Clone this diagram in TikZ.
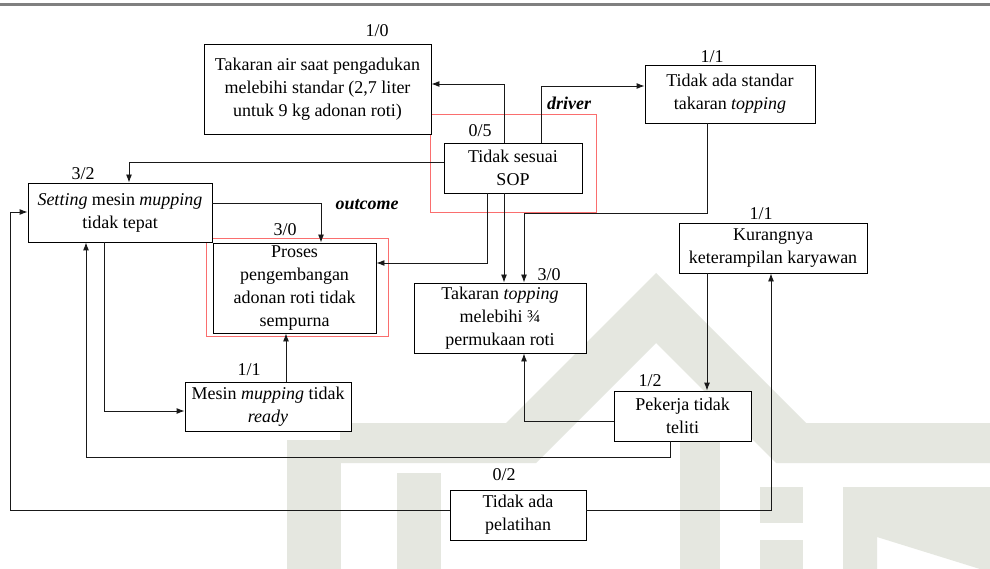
\documentclass[tikz,border=0pt]{standalone}
\usepackage{fontspec}
\setmainfont{Liberation Serif}
\usetikzlibrary{arrows.meta}
\definecolor{wmgray}{RGB}{229,231,224}
\definecolor{frame}{RGB}{250,110,110}
\definecolor{rule}{RGB}{128,128,128}
\tikzset{
  box/.style={draw=black, line width=0.9pt, fill=white, align=center,
              inner sep=0pt, font=\fontsize{18}{23}\selectfont},
  lbl/.style={inner sep=0pt, font=\fontsize{18}{23}\selectfont},
  tag/.style={inner sep=0pt, font=\fontsize{18}{23}\selectfont\bfseries\itshape},
  conn/.style={draw=black!90, line width=0.9pt, -{Latex[length=8pt,width=6pt]}},
  redframe/.style={draw=frame, line width=1.2pt},
  wm/.style={fill=wmgray, draw=none}
}
\begin{document}
\begin{tikzpicture}[x=1pt,y=-1pt]
\useasboundingbox (0,0) rectangle (990,569);
\fill[white] (0,0) rectangle (990,569);

% faint logo in the background
\fill[wm] (656,273) -- (806,423) -- (990,423) -- (990,463) -- (776,463)
  -- (656,343) -- (536,463) -- (340,463) -- (340,423) -- (506,423) -- cycle;
\fill[wm] (287,440) rectangle (341,569);
\fill[wm] (397,473) rectangle (441,569);
\fill[wm] (680,440) rectangle (720,569);
\fill[wm] (760,487) rectangle (803,523);
\fill[wm] (760,540) rectangle (803,569);
\fill[wm] (843,487) -- (990,487) -- (990,569) -- (980,569) -- (877,537) -- (877,569) -- (843,569) -- cycle;

% header rule
\draw[rule, line width=3pt] (0,5) -- (990,5);

% highlight frames
\draw[redframe] (430.5,114.5) rectangle (596.5,212.5);
\draw[redframe] (206.5,238.5) rectangle (388.5,336.5);

% factors
\node[box, minimum width=227pt, minimum height=90pt] (air) at (317.5,89)
  {Takaran air saat pengadukan\\melebihi standar (2,7 liter\\untuk 9 kg adonan roti)};
\node[box, minimum width=138pt, minimum height=50pt] (sop) at (513,168)
  {Tidak sesuai\\SOP};
\node[box, minimum width=170pt, minimum height=58pt] (std) at (730,94)
  {Tidak ada standar\\takaran \textit{topping}};
\node[box, minimum width=184pt, minimum height=59pt] (set) at (120,212.5)
  {\textit{Setting} mesin \textit{mupping}\\tidak tepat};
\node[box, minimum width=163pt, minimum height=90pt] (pro) at (294.5,288)
  {Proses\\pengembangan\\adonan roti tidak\\sempurna};
\node[box, minimum width=172pt, minimum height=70pt] (top) at (500,318)
  {Takaran \textit{topping}\\melebihi ¾\\permukaan roti};
\node[box, minimum width=188pt, minimum height=50pt] (kur) at (773,248)
  {Kurangnya\\keterampilan karyawan};
\node[box, minimum width=166pt, minimum height=49pt] (mes) at (268,406.5)
  {Mesin \textit{mupping} tidak\\\textit{ready}};
\node[box, minimum width=137pt, minimum height=50pt] (pek) at (682.5,416)
  {Pekerja tidak\\teliti};
\node[box, minimum width=136pt, minimum height=50pt] (pel) at (518,515)
  {Tidak ada\\pelatihan};

% in/out counts
\node[lbl] (nair) at (377,31) {1/0};
\node[lbl] (nstd) at (712,57) {1/1};
\node[lbl] (nsop) at (480,131) {0/5};
\node[lbl] (nset) at (83,174) {3/2};
\node[lbl] (npro) at (285,230) {3/0};
\node[lbl] (ntop) at (549,275) {3/0};
\node[lbl] (nkur) at (761,214) {1/1};
\node[lbl] (nmes) at (249,370) {1/1};
\node[lbl] (npek) at (650,381) {1/2};
\node[lbl] (npel) at (504,475) {0/2};
\node[tag] (drv) at (569,103) {driver};
\node[tag] (out) at (367,205) {outcome};

% routing guides
\coordinate (xa) at (504,0);
\coordinate (xb) at (541,0);
\coordinate (xc) at (129,0);
\coordinate (xd) at (487,0);
\coordinate (xf) at (707,0);
\coordinate (xg) at (524,0);
\coordinate (xp) at (321,0);
\coordinate (xh) at (104,0);
\coordinate (xi) at (286,0);
\coordinate (xj) at (670,0);
\coordinate (xk) at (86,0);
\coordinate (xm) at (771,0);
\coordinate (xn) at (10,0);
\coordinate (ya) at (0,84);
\coordinate (yb) at (0,86);
\coordinate (yc) at (0,162);
\coordinate (yd) at (0,263);
\coordinate (yf) at (0,213);
\coordinate (ys) at (0,203);
\coordinate (ym) at (0,411);
\coordinate (yj) at (0,457);
\coordinate (yk) at (0,421);
\coordinate (yl) at (0,510);
\coordinate (yn) at (0,212);

% connectors
\draw[conn] (xa |- sop.north) |- (air.east |- ya);
\draw[conn] (xb |- sop.north) |- (std.west |- yb);
\draw[conn] (sop.west |- yc) -| (xc |- set.north);
\draw[conn] (xd |- sop.south) |- (pro.east |- yd);
\draw[conn] (xa |- sop.south) -- (xa |- top.north);
\draw[conn] (xf |- std.south) |- (xg |- yf) -- (xg |- top.north);
\draw[conn] (set.east |- ys) -| (xp |- pro.north);
\draw[conn] (xh |- set.south) |- (mes.west |- ym);
\draw[conn] (xi |- mes.north) -- (xi |- pro.south);
\draw[conn] (xj |- pek.south) |- (xk |- yj) -- (xk |- set.south);
\draw[conn] (pek.west |- yk) -| (xg |- top.south);
\draw[conn] (xf |- kur.south) -- (xf |- pek.north);
\draw[conn] (pel.east |- yl) -| (xm |- kur.south);
\draw[conn] (pel.west |- yl) -| (xn |- yn) -- (set.west |- yn);
\end{tikzpicture}
\end{document}
